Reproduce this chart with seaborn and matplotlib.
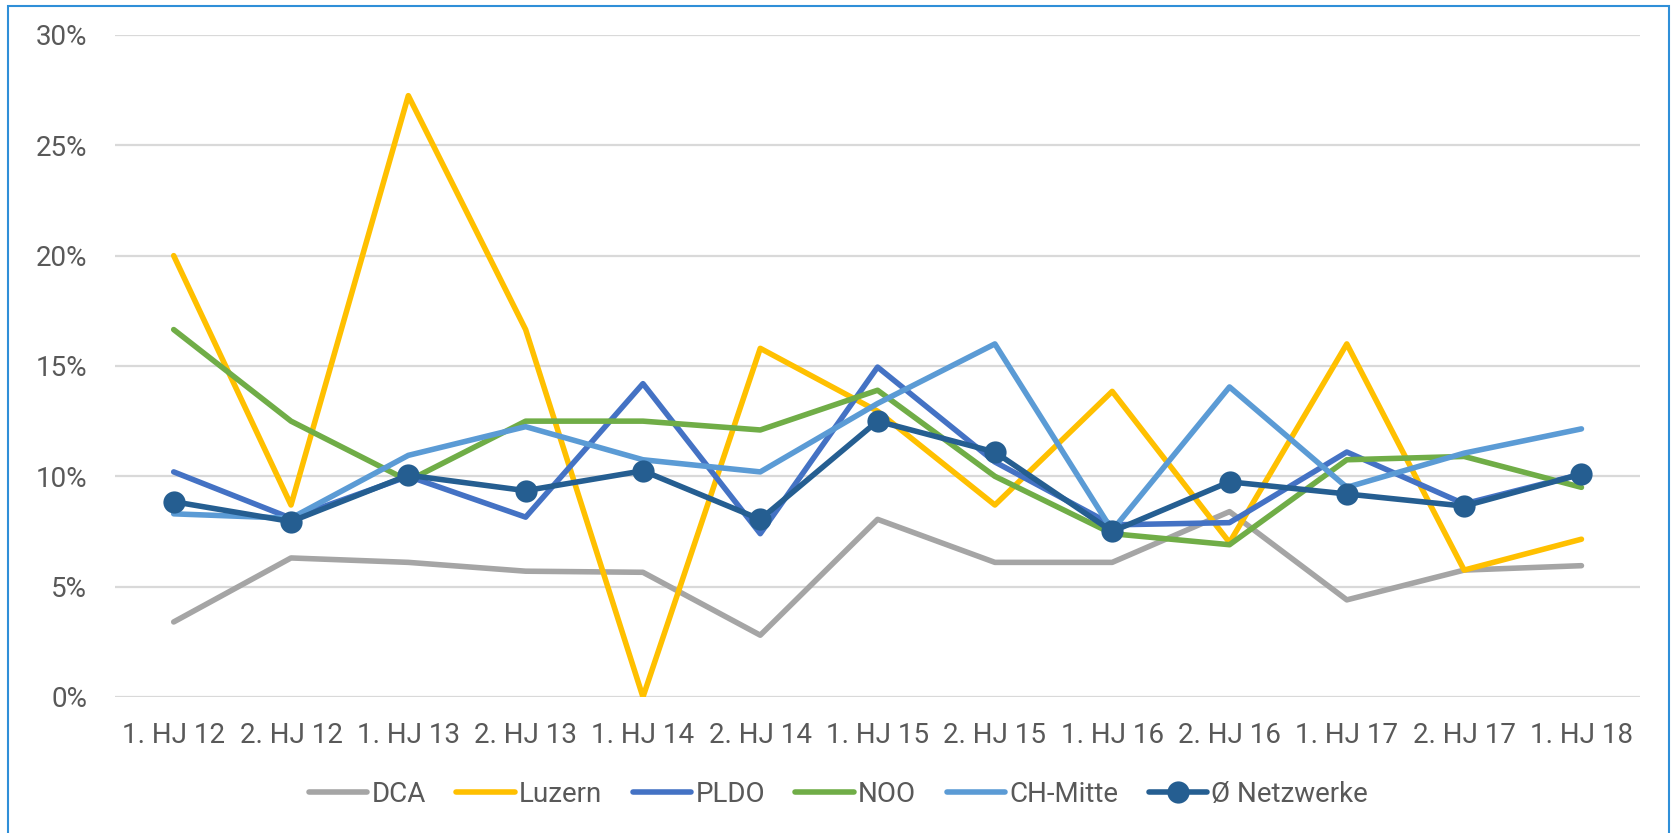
import numpy as np
import pandas as pd
import matplotlib
matplotlib.use("Agg")
import matplotlib.pyplot as plt
import seaborn as sns
from matplotlib.lines import Line2D
from matplotlib.patches import Rectangle

categories = ["1. HJ 12", "2. HJ 12", "1. HJ 13", "2. HJ 13", "1. HJ 14", "2. HJ 14",
              "1. HJ 15", "2. HJ 15", "1. HJ 16", "2. HJ 16", "1. HJ 17", "2. HJ 17", "1. HJ 18"]

dca = [3.4, 6.3, 6.1, 5.7, 5.65, 2.8, 8.05, 6.1, 6.1, 8.4, 4.4, 5.75, 5.95]
luzern = [20.0, 8.7, 27.25, 16.65, 0.0, 15.8, 12.95, 8.7, 13.85, 7.0, 16.0, 5.75, 7.15]
pldo = [10.2, 8.1, 10.0, 8.15, 14.2, 7.4, 14.95, 10.65, 7.8, 7.9, 11.1, 8.75, 10.1]
noo = [16.65, 12.5, 9.8, 12.5, 12.5, 12.1, 13.9, 10.0, 7.4, 6.9, 10.75, 10.9, 9.5]
ch_mitte = [8.3, 8.1, 10.95, 12.25, 10.75, 10.2, 13.3, 16.0, 7.55, 14.05, 9.5, 11.05, 12.15]
netzwerke = [8.85, 7.95, 10.05, 9.35, 10.25, 8.05, 12.5, 11.1, 7.5, 9.75, 9.2, 8.65, 10.1]

series_names = ["DCA", "Luzern", "PLDO", "NOO", "CH-Mitte", "Ø Netzwerke"]
series_values = [dca, luzern, pldo, noo, ch_mitte, netzwerke]
colors = ["#A5A5A5", "#FFC000", "#4472C4", "#70AD47", "#5B9BD5", "#255E91"]

sns.set_theme(style="white")
plt.rcParams['font.family'] = ['Roboto', 'DejaVu Sans']
text_color = "#595959"
LW = 4.0
MS = 16

fig = plt.figure(figsize=(16.77, 8.33), dpi=100)
ax = fig.add_axes([0.0686, 0.1633, 0.9094, 0.7947])

x = np.arange(len(categories))
for name, vals, col in zip(series_names, series_values, colors):
    df = pd.DataFrame({"x": x, "y": np.array(vals) / 100.0})
    is_avg = name.startswith("Ø")
    sns.lineplot(data=df, x="x", y="y", ax=ax, color=col, linewidth=LW,
                 marker="o" if is_avg else None, markersize=MS if is_avg else 0,
                 markeredgewidth=0, solid_capstyle="round", sort=False,
                 zorder=3 if is_avg else 2)

ax.set_xlim(-0.5, len(categories) - 0.5)
ax.set_ylim(0, 0.30)
ax.set_yticks(np.arange(0, 0.31, 0.05))
ax.set_yticklabels([f"{int(round(v*100))}%" for v in np.arange(0, 0.31, 0.05)])
ax.set_xticks(x)
ax.set_xticklabels(categories)
ax.set_xlabel("")
ax.set_ylabel("")
ax.tick_params(axis="both", length=0, labelsize=20, colors=text_color)
ax.tick_params(axis="x", pad=18)
ax.tick_params(axis="y", pad=20)
for s in ax.spines.values():
    s.set_visible(False)
ax.yaxis.grid(True, color="#D9D9D9", linewidth=1.6)
ax.xaxis.grid(False)
ax.set_axisbelow(True)

handles = []
for name, col in zip(series_names, colors):
    if name.startswith("Ø"):
        handles.append(Line2D([0], [0], color=col, lw=LW, marker="o", markersize=MS,
                              markeredgewidth=0, solid_capstyle="round"))
    else:
        handles.append(Line2D([0], [0], color=col, lw=LW, solid_capstyle="round"))
leg = fig.legend(handles, series_names, loc="center", bbox_to_anchor=(0.5, 0.046),
                 ncol=6, frameon=False, fontsize=20, handlelength=2.1,
                 handletextpad=0.15, columnspacing=1.1)
for t in leg.get_texts():
    t.set_color(text_color)

fig.patches.append(Rectangle((0.005, -0.01), 0.99, 1.003, transform=fig.transFigure,
                             fill=False, edgecolor="#2F8FD8", linewidth=1.5))

fig.savefig("out.png", dpi=100)
